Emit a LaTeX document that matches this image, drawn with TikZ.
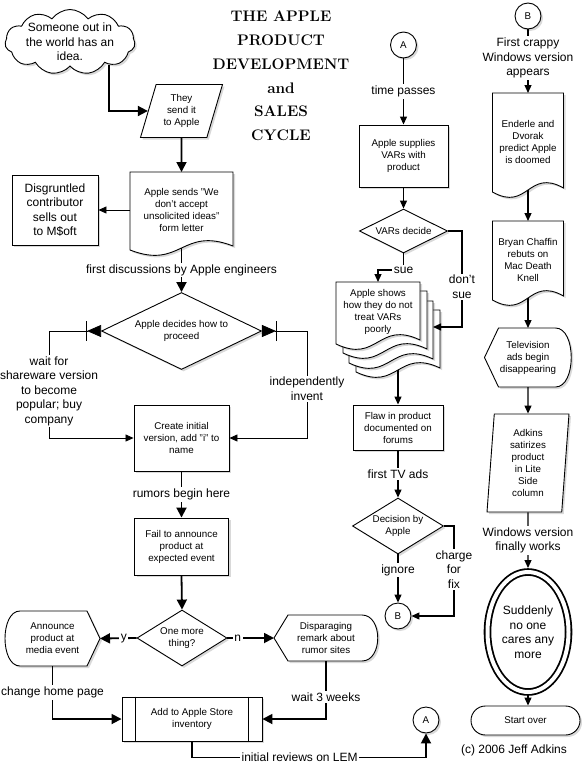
\documentclass[tikz,border=0pt]{standalone}
\usepackage{fontspec}
\setsansfont{Liberation Sans}
\usepackage{tikz}
\usetikzlibrary{shapes.geometric, shapes.symbols, arrows.meta, positioning, shadows}
\pgfdeclarelayer{background}
\pgfsetlayers{background,main}
\newcommand{\boxfont}{\sffamily\fontsize{9.8}{12}\selectfont}
\newcommand{\bigfont}{\sffamily\fontsize{12}{14.5}\selectfont}
\tikzstyle{shadowed} = [drop shadow={shadow xshift=2pt, shadow yshift=-2pt, opacity=0.3}]
\tikzstyle{process} = [rectangle, draw=black, line width=0.9pt, fill=white, shadowed, align=center, font=\boxfont]
\tikzstyle{decision} = [diamond, draw=black, line width=0.9pt, fill=white, shadowed, align=center, inner sep=0pt, font=\boxfont]
\tikzstyle{data} = [trapezium, trapezium left angle=66, trapezium right angle=114, trapezium stretches body=true, draw=black, line width=0.9pt, fill=white, shadowed, align=center, inner sep=1pt, font=\boxfont]
\tikzstyle{connector} = [circle, draw=black, line width=0.9pt, fill=white, shadowed, minimum size=26pt, inner sep=0pt, font=\boxfont]
\tikzstyle{bare} = [rectangle, align=center, inner sep=0pt, outer sep=0pt, font=\boxfont]
\tikzstyle{outline} = [draw=black, line width=0.9pt, fill=white, shadowed]
\tikzstyle{lbl} = [fill=white, inner sep=1.5pt, align=center, font=\bigfont]
\tikzstyle{arrow} = [line width=1.8pt, -{Triangle[length=10pt, width=10pt]}]
\tikzstyle{midarrow} = [line width=1.2pt, -{Triangle[length=8pt, width=7pt]}]
\tikzstyle{thinarrow} = [line width=0.8pt, -{Triangle[length=8pt, width=7pt]}]
\tikzstyle{splitarrow} = [line width=0.8pt, {Triangle[reversed, length=14pt, width=12pt] Bar[width=20pt]}-{Triangle[length=8pt, width=7pt]}]
% outlines drawn behind text-only nodes
\newcommand{\drawdoc}[1]{%
  \begin{pgfonlayer}{background}
    \draw [outline] (#1.north west) -- (#1.north east) -- ([yshift=2pt]#1.south east) .. controls ([yshift=22pt]#1.south) and ([yshift=-22pt]#1.south) .. ([yshift=-2pt]#1.south west) -- cycle;
  \end{pgfonlayer}}
\newcommand{\drawdispL}[1]{%
  \begin{pgfonlayer}{background}
    \draw [outline] (#1.west) -- ([xshift=14pt]#1.north west) -- ([xshift=-16pt]#1.north east) .. controls ([xshift=5pt]#1.north east) and ([xshift=5pt]#1.south east) .. ([xshift=-16pt]#1.south east) -- ([xshift=14pt]#1.south west) -- cycle;
  \end{pgfonlayer}}
\newcommand{\drawdispR}[1]{%
  \begin{pgfonlayer}{background}
    \draw [outline] (#1.east) -- ([xshift=-13pt]#1.north east) -- ([xshift=15pt]#1.north west) .. controls ([xshift=-5pt]#1.north west) and ([xshift=-5pt]#1.south west) .. ([xshift=15pt]#1.south west) -- ([xshift=-13pt]#1.south east) -- cycle;
  \end{pgfonlayer}}

\begin{document}
\begin{tikzpicture}[x=1pt, y=-1pt]
\useasboundingbox (0,0) rectangle (586,763);

% Title
\node (title) [align=center, font=\fontsize{15.3}{23.8}\selectfont\bfseries] at (281,76) {THE APPLE\\PRODUCT\\DEVELOPMENT\\and\\SALES\\CYCLE};

% Left column
\node (idea) [cloud, cloud puffs=11, cloud puff arc=110, aspect=2, draw=black, line width=0.9pt, fill=white, shadowed, minimum width=130, minimum height=65, label={[align=center, font=\bigfont]center:{Someone out in\\the world has an\\idea.}}] at (70,42) {};
\node (send) [data, minimum width=82, minimum height=53] at (181.5,111) {They\\send it\\to Apple};
\node (letter) [bare, minimum width=103, minimum height=76] at (181.5,210) {Apple sends "We\\don't accept\\unsolicited ideas"\\form letter};
\node (sellout) [process, font=\bigfont, minimum width=86, minimum height=70] at (55,210) {Disgruntled\\contributor\\sells out\\to M\$oft};
\node (decides) [decision, aspect=2, minimum width=160, minimum height=77] at (181.5,331) {Apple decides how to\\proceed};
\node (create) [process, minimum width=95, minimum height=66] at (181.5,438) {Create initial\\version, add "i" to\\name};
\node (fail) [process, minimum width=94, minimum height=57] at (181.5,546.5) {Fail to announce\\product at\\expected event};
\node (onemore) [decision, aspect=1.6, minimum width=90, minimum height=56] at (182,638) {One more\\thing?};
\node (announce) [bare, minimum width=95, minimum height=55] at (52.5,638.5) {Announce\\product at\\media event};
\node (disparage) [bare, minimum width=104, minimum height=46] at (326,638) {Disparaging\\remark about\\rumor sites};
\node (store) [process, minimum width=140, minimum height=44] at (192,719) {Add to Apple Store\\inventory};
\node (Alow) [connector] at (426,720) {A};

% Middle column
\node (Ahigh) [connector] at (403.5,45) {A};
\node (supply) [process, minimum width=89, minimum height=62] at (403.5,156) {Apple supplies\\VARs with\\product};
\node (vars) [decision, aspect=2, minimum width=88, minimum height=44] at (403.5,231) {VARs decide};
\node (stackC) [bare, minimum width=84, minimum height=60] at (398,340) {};
\node (stackB) [bare, minimum width=84, minimum height=60] at (391,331) {};
\node (stackA) [bare, minimum width=84, minimum height=60] at (385,321) {};
\node (stack) [bare, minimum width=84, minimum height=60] at (378,312) {Apple shows\\how they do not\\treat VARs\\poorly};
\node (flaw) [process, minimum width=90, minimum height=45] at (398,427.5) {Flaw in product\\documented on\\forums};
\node (apple) [decision, aspect=1.6, minimum width=91, minimum height=56] at (398,526) {Decision by\\Apple};
\node (Bmid) [connector] at (398,616) {B};

% Right column
\node (Btop) [connector] at (528,16) {B};
\node (enderle) [bare, minimum width=71, minimum height=97] at (528,141.5) {Enderle and\\Dvorak\\predict Apple\\is doomed};
\node (bryan) [bare, minimum width=71, minimum height=77] at (528,259.5) {Bryan Chaffin\\rebuts on\\Mac Death\\Knell};
\node (tv) [bare, minimum width=87, minimum height=59] at (528,357.5) {Television\\ads begin\\disappearing};
\node (adkins) [data, trapezium left angle=84, trapezium right angle=96, minimum width=82, minimum height=98] at (528,463) {Adkins\\satirizes\\product\\in Lite\\Side\\column};
\node (nobody) [ellipse, draw=black, line width=1.8pt, double, double distance=4pt, fill=white, shadowed, minimum width=81, minimum height=120, inner sep=0pt, outer sep=4pt, align=center, font=\bigfont] at (528,632) {Suddenly\\no one\\cares any\\more};
\node (restart) [process, rounded corners=14.5pt, minimum width=109, minimum height=29] at (525.5,720.5) {Start over};
\node (credit) [font=\bigfont] at (514,750) {(c) 2006 Jeff Adkins};

% Shape outlines
\drawdoc{letter}
\drawdoc{stackC}
\drawdoc{stackB}
\drawdoc{stackA}
\drawdoc{stack}
\drawdoc{enderle}
\drawdoc{bryan}
\drawdispR{announce}
\drawdispL{disparage}
\drawdispL{tv}
\draw [line width=0.9pt] ([xshift=14pt]store.north west) -- ([xshift=14pt]store.south west) ([xshift=-14pt]store.north east) -- ([xshift=-14pt]store.south east);

% Arrows, left column
\draw [arrow] (idea.-30) |- (send.west);
\draw [arrow] (send.south) -- (letter.north);
\draw [thinarrow] (letter.west) -- (sellout.east);
\draw [arrow] (letter.south) -- node[lbl] {first discussions by Apple engineers} (decides.north);
\draw [splitarrow] (decides.west) -- ++(-52,0) |- node[lbl, pos=0.28] {wait for\\shareware version\\to become\\popular; buy\\company} (create.west);
\draw [splitarrow] (decides.east) -- ++(45,0) |- node[lbl, pos=0.27] {independently\\invent} (create.east);
\draw [arrow] (create.south) -- node[lbl] {rumors begin here} (fail.north);
\draw [arrow] (fail.south) -- (onemore.north);
\draw [arrow] (onemore.west) -- node[lbl, pos=0.35] {y} (announce.east);
\draw [arrow] (onemore.east) -- node[lbl, pos=0.22] {n} (disparage.west);
\draw [arrow] (announce.south) |- node[lbl, pos=0.25] {change home page} (store.west);
\draw [arrow] (disparage.south) |- node[lbl, pos=0.31] {wait 3 weeks} (store.east);
\draw [arrow] (store.south) -- ++(0,16) -| node[lbl, pos=0.23] {initial reviews on LEM} (Alow.south);

% Arrows, middle column
\draw [midarrow] (Ahigh.south) -- node[lbl] {time passes} (supply.north);
\draw [midarrow] (supply.south) -- (vars.north);
\draw [midarrow] (vars.south) |- node[lbl] {sue} ([yshift=12pt]stack.north) -- (stack.north);
\draw [midarrow] (vars.east) -- ++(14,0) |- node[lbl, pos=0.29] {don't\\sue} ([yshift=4pt]stackB.east);
\draw [midarrow] (stackC.south) -- (flaw.north);
\draw [midarrow] (flaw.south) -- node[lbl] {first TV ads} (apple.north);
\draw [midarrow] (apple.south) -- node[lbl, pos=0.33] {ignore} (Bmid.north);
\draw [midarrow] (apple.east) -- ++(10,0) |- node[lbl, pos=0.24] {charge\\for\\fix} (Bmid.east);

% Arrows, right column
\draw [midarrow] (Btop.south) -- node[lbl, pos=0.45] {First crappy\\Windows version\\appears} (enderle.north);
\draw [midarrow] (enderle.south) -- (bryan.north);
\draw [midarrow] (bryan.south) -- (tv.north);
\draw [midarrow] (tv.south) -- (adkins.north);
\draw [midarrow] (adkins.south) -- node[lbl] {Windows version\\finally works} (nobody.north);
\draw [midarrow] (nobody.south) -- (nobody.south |- restart.north);

\end{tikzpicture}
\end{document}
